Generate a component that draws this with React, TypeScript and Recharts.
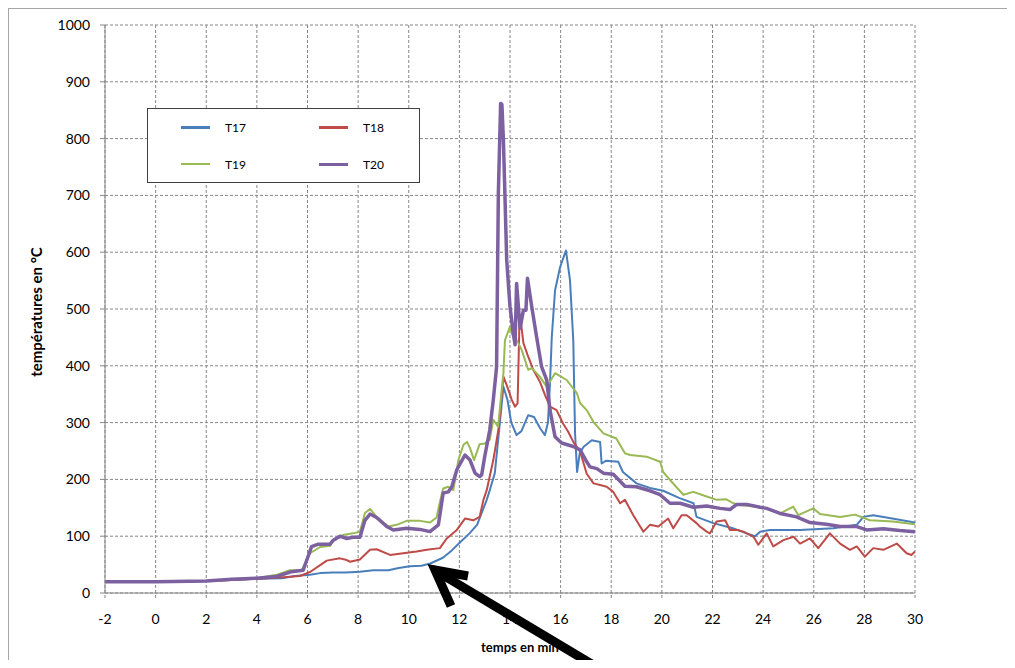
import React from 'react';
import { LineChart, Line, XAxis, YAxis, CartesianGrid, Legend } from 'recharts';

// time (min) / temperature (°C) readings for each thermocouple
const timeTicks = [-2, 0, 2, 4, 6, 8, 10, 12, 14, 16, 18, 20, 22, 24, 26, 28, 30];
const tempTicks = [0, 100, 200, 300, 400, 500, 600, 700, 800, 900, 1000];

const t17: [number, number][] = [
  [-2, 20], [0, 20], [2, 21], [3, 23], [4, 25], [5, 26], [5.5, 30], [6.1, 32], [6.5, 35], [7, 36],
  [7.5, 36], [8.07, 37.5], [8.6, 40], [9.2, 40], [9.6, 44], [10.05, 47], [10.5, 48], [10.85, 52],
  [11.35, 62], [11.7, 75], [12, 88], [12.4, 105], [12.7, 120], [13.08, 164], [13.2, 181], [13.4, 211],
  [13.6, 300], [13.74, 363], [13.9, 340], [14.05, 300], [14.26, 278], [14.45, 285], [14.72, 313],
  [14.95, 310], [15.19, 290], [15.38, 278], [15.5, 300], [15.58, 370], [15.65, 450], [15.78, 533],
  [15.98, 574], [16.21, 603], [16.37, 551], [16.5, 445], [16.57, 281], [16.65, 213], [16.75, 245],
  [16.9, 257], [17.23, 269], [17.56, 266], [17.62, 228], [17.8, 233], [18.28, 231], [18.46, 213],
  [19, 193], [19.53, 185], [20.05, 180], [20.7, 167], [21.25, 158], [21.37, 134], [22.03, 123],
  [22.8, 114], [23.35, 105], [23.68, 100], [23.88, 108], [24.27, 111], [25.46, 111], [26.77, 114],
  [27.7, 120], [27.96, 134], [28.35, 137], [29.1, 131], [30, 124],
];

const t18: [number, number][] = [
  [-2, 20], [0, 20], [2, 21], [3, 23], [4, 25], [4.78, 27], [5.7, 30], [6.1, 37], [6.5, 49], [6.76, 57],
  [7.28, 61], [7.55, 58], [7.68, 55], [8.07, 59], [8.47, 76], [8.73, 77], [9.26, 67], [9.78, 70],
  [10.31, 73], [10.71, 76], [11.23, 79], [11.5, 96], [11.9, 111], [12.22, 131], [12.55, 128],
  [12.8, 134], [12.95, 164], [13.08, 181], [13.34, 234], [13.54, 287], [13.67, 346], [13.74, 381],
  [13.87, 366], [14.07, 340], [14.2, 328], [14.3, 334], [14.37, 469], [14.4, 489], [14.53, 440],
  [14.72, 416], [14.92, 393], [15.18, 372], [15.38, 349], [15.58, 328], [15.84, 322], [16.1, 298],
  [16.3, 284], [16.5, 266], [16.77, 249], [17.03, 210], [17.3, 193], [17.56, 190], [17.82, 187],
  [18.08, 178], [18.35, 158], [18.54, 164], [18.87, 137], [19.27, 108], [19.53, 120], [19.86, 117],
  [20.25, 131], [20.45, 114], [20.78, 137], [20.98, 137], [21.37, 123], [21.5, 117], [21.77, 108],
  [21.9, 105], [22.16, 126], [22.5, 128], [22.69, 111], [23, 111], [23.22, 108], [23.62, 99],
  [23.81, 85], [24.14, 105], [24.4, 82], [24.8, 93], [25.2, 99], [25.46, 87], [25.85, 96], [26.18, 79],
  [26.64, 105], [27.04, 87], [27.43, 76], [27.7, 82], [28.02, 64], [28.35, 79], [28.75, 76],
  [29.28, 87], [29.67, 70], [29.86, 67], [30, 73],
];

const t19: [number, number][] = [
  [-2, 20], [0, 20], [2, 21], [3, 24], [4, 26], [4.78, 32], [5.3, 40], [5.77, 40], [6.1, 70], [6.5, 81],
  [6.9, 83], [7, 93], [7.4, 102], [7.8, 105], [8.07, 108], [8.27, 141], [8.47, 148], [8.73, 134],
  [9.2, 117], [9.52, 120], [9.92, 127], [10.44, 127], [10.84, 124], [11.1, 133], [11.23, 160],
  [11.36, 184], [11.56, 187], [11.76, 181], [11.96, 234], [12.16, 261], [12.3, 266], [12.42, 255],
  [12.58, 234], [12.8, 262], [13, 263], [13.2, 270], [13.34, 305], [13.53, 293], [13.74, 387],
  [13.8, 445], [14, 469], [14.07, 457], [14.33, 440], [14.46, 428], [14.66, 401], [14.72, 393],
  [14.86, 396], [15.18, 381], [15.45, 363], [15.78, 387], [16.24, 375], [16.64, 352], [16.77, 334],
  [17.03, 322], [17.3, 301], [17.69, 281], [18.2, 272], [18.54, 246], [18.74, 243], [19.4, 240],
  [19.93, 231], [20.05, 213], [20.32, 199], [20.85, 173], [21.24, 178], [21.77, 170], [22.17, 164],
  [22.55, 165], [22.82, 158], [23.09, 155], [23.88, 151], [24.14, 149], [24.67, 140], [25.19, 152],
  [25.39, 137], [25.98, 149], [26.25, 139], [27.04, 134], [27.63, 138], [28.22, 128], [29.13, 126],
  [30, 121],
];

const t20: [number, number][] = [
  [-2, 20], [0, 20], [2, 21], [3, 24], [4, 26], [4.78, 29], [5.37, 37.5], [5.83, 40], [6.16, 81.5],
  [6.43, 86], [6.89, 86], [7.02, 93], [7.28, 100], [7.55, 96], [7.8, 98], [8.07, 98], [8.27, 128],
  [8.47, 139], [8.73, 133], [9.13, 117], [9.39, 111], [9.92, 114], [10.44, 112], [10.84, 108],
  [11.17, 120], [11.36, 176], [11.56, 178], [11.7, 187], [11.9, 217], [12.22, 243], [12.42, 234],
  [12.62, 211], [12.8, 205], [12.88, 208], [13, 240], [13.2, 287], [13.34, 340], [13.47, 398],
  [13.54, 704], [13.63, 862], [13.68, 860], [13.74, 797], [13.87, 586], [14, 504], [14.13, 457],
  [14.2, 437], [14.26, 545], [14.4, 466], [14.53, 498], [14.63, 498], [14.69, 554], [14.86, 504],
  [15.05, 451], [15.25, 398], [15.45, 375], [15.58, 322], [15.78, 275], [16.04, 264], [16.5, 258],
  [16.77, 252], [17.03, 231], [17.16, 222], [17.43, 219], [17.69, 211], [18.08, 209], [18.54, 188],
  [19, 187], [19.53, 180], [19.93, 173], [20.32, 158], [20.72, 158], [21.24, 151], [21.77, 153],
  [22.3, 149], [22.69, 147], [22.96, 156], [23.35, 156], [23.88, 151], [24.14, 149], [24.67, 140],
  [25.32, 134], [25.85, 124], [26.5, 121], [27.04, 117], [27.7, 117], [28.09, 111], [28.75, 113],
  [29.4, 110], [30, 108],
];

const series = [
  { name: 'T17', color: '#4a7ebb', width: 2, points: t17 },
  { name: 'T18', color: '#be4b48', width: 2, points: t18 },
  { name: 'T19', color: '#98b954', width: 2, points: t19 },
  { name: 'T20', color: '#7d60a0', width: 3.5, points: t20 },
];

const FONT = 'Lato, "Liberation Sans", sans-serif';
const GRID = '#868686';

const toRows = (pts: [number, number][]) => pts.map(([t, v]) => ({ t, v }));

const LegendBox = () => (
  <div
    style={{
      width: 271,
      height: 73,
      border: '1px solid #404040',
      background: '#fff',
      display: 'grid',
      gridTemplateColumns: '138px 133px',
      gridTemplateRows: '37px 36px',
      fontFamily: FONT,
      fontSize: 12,
      color: '#000',
    }}
  >
    {series.map((s) => (
      <div key={s.name} style={{ display: 'flex', alignItems: 'center', paddingLeft: 33 }}>
        <span style={{ display: 'inline-block', width: 29, height: s.name === 'T20' ? 3 : 2.5, background: s.color }} />
        <span style={{ marginLeft: 15 }}>{s.name}</span>
      </div>
    ))}
  </div>
);

export default function App() {
  return (
    <div
      style={{
        position: 'relative',
        width: 998,
        height: 651,
        borderTop: '1px solid #a6a6a6',
        borderLeft: '1px solid #a6a6a6',
        background: '#fff',
      }}
    >
      <LineChart width={990} height={650} margin={{ top: 16, right: 84, bottom: 6, left: 36 }}>
        <CartesianGrid stroke={GRID} strokeDasharray="3 2" />
        <XAxis
          type="number"
          dataKey="t"
          domain={[-2, 30]}
          ticks={timeTicks}
          allowDataOverflow
          height={60}
          stroke={GRID}
          tickSize={5}
          tickMargin={16}
          tickLine={{ stroke: GRID, strokeDasharray: '3 2' }}
          tick={{ fill: '#000', fontSize: 14, fontFamily: FONT }}
          label={{
            value: 'temps en min',
            position: 'insideBottom',
            offset: 1,
            dx: 10,
            style: { fill: '#000', fontSize: 13, fontWeight: 700, fontFamily: FONT },
          }}
        />
        <YAxis
          type="number"
          domain={[0, 1000]}
          ticks={tempTicks}
          allowDataOverflow
          width={60}
          stroke={GRID}
          tickSize={5}
          tickMargin={10}
          tick={{ fill: '#000', fontSize: 14, fontFamily: FONT }}
          label={{
            value: 'températures en °C',
            angle: -90,
            position: 'insideLeft',
            offset: -8,
            dy: 3,
            style: { textAnchor: 'middle', fill: '#000', fontSize: 15, fontWeight: 700, fontFamily: FONT },
          }}
        />
        <Legend
          layout="horizontal"
          verticalAlign="middle"
          align="center"
          wrapperStyle={{ left: 138, top: 99, width: 273, height: 75 }}
          content={() => <LegendBox />}
        />
        {series.map((s) => (
          <Line
            key={s.name}
            name={s.name}
            data={toRows(s.points)}
            dataKey="v"
            type="linear"
            stroke={s.color}
            strokeWidth={s.width}
            strokeLinejoin="round"
            dot={false}
            activeDot={false}
            isAnimationActive={false}
          />
        ))}
      </LineChart>
      <svg
        width={990}
        height={659}
        style={{ position: 'absolute', left: 0, top: 0, pointerEvents: 'none' }}
      >
        <line x1={427} y1={562} x2={601} y2={666} stroke="#000" strokeWidth={9} />
        <polyline points="459,567 426,561 442,597" fill="none" stroke="#000" strokeWidth={9} strokeLinejoin="miter" />
      </svg>
    </div>
  );
}
